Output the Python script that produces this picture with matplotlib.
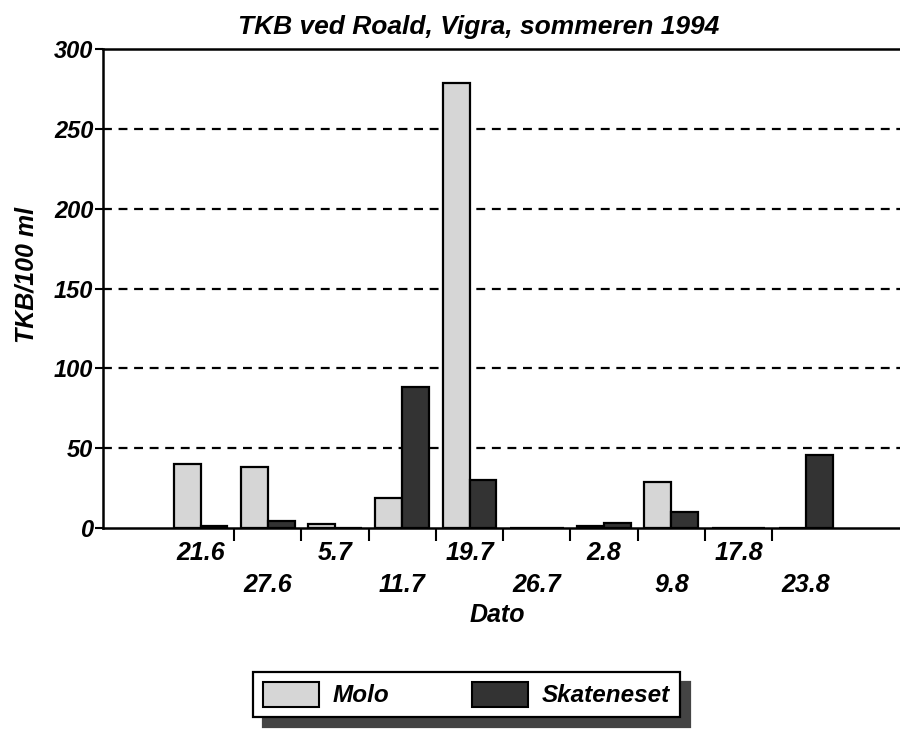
import matplotlib
matplotlib.use("Agg")
import matplotlib.pyplot as plt
import numpy as np
from matplotlib.patches import Patch

dates = ["21.6", "27.6", "5.7", "11.7", "19.7", "26.7", "2.8", "9.8", "17.8", "23.8"]
molo = [40, 38, 2.5, 19, 279, 0, 1.5, 29, 0, 0]
skateneset = [1.5, 4.5, 0, 88, 30, 0, 3, 10, 0, 46]
yticks = [0, 50, 100, 150, 200, 250, 300]

plt.rcParams['font.family'] = ['Liberation Sans', 'DejaVu Sans']
FONT = dict(fontweight='bold', fontstyle='italic')

W, H = 900, 731
fig = plt.figure(figsize=(9, 7.31), dpi=100)
ax = fig.add_axes([103 / W, 1 - 528 / H, 1 - 103 / W, (528 - 49) / H])

x = np.arange(len(dates))
bw = 0.4
ax.bar(x - bw / 2, molo, bw, color='#d6d6d6', edgecolor='black', linewidth=1.6, zorder=3)
ax.bar(x + bw / 2, skateneset, bw, color='#333333', edgecolor='black', linewidth=1.6, zorder=3)

ax.set_xlim(-1.45, 10.4)
ax.set_ylim(0, 300)

for v in yticks[1:-1]:
    ax.axhline(v, color='black', linestyle=(0, (4, 3)), linewidth=1.6, zorder=1)

ax.spines['right'].set_visible(False)
for s in ['left', 'bottom', 'top']:
    ax.spines[s].set_linewidth(1.8)

ax.set_yticks(yticks)
ax.set_yticklabels([str(v) for v in yticks], fontsize=17, **FONT)
ax.tick_params(axis='y', direction='out', length=6, width=1.5, pad=1)

ax.set_xticks(np.arange(len(dates) - 1) + 0.5)
ax.set_xticklabels([])
ax.tick_params(axis='x', direction='out', length=9, width=1.5)

for i, d in enumerate(dates):
    yoff = -25 if i % 2 == 0 else -57
    ax.annotate(d, xy=(i, 0), xycoords='data', xytext=(0, yoff), textcoords='offset pixels',
                ha='center', va='center', fontsize=18, **FONT, annotation_clip=False)

ax.annotate('Dato', xy=(0.5, 0), xycoords=('axes fraction', 'axes fraction'), xytext=(-4, -87),
            textcoords='offset pixels', ha='center', va='center', fontsize=18, **FONT)

fig.text(479 / W, 1 - 27 / H, 'TKB ved Roald, Vigra, sommeren 1994', ha='center', va='center',
         fontsize=19, **FONT)
fig.text(26 / W, 1 - 275 / H, 'TKB/100 ml', rotation=90, ha='center', va='center',
         fontsize=18, **FONT)

handles = [Patch(facecolor='#d6d6d6', edgecolor='black', linewidth=1.5, label='Molo'),
           Patch(facecolor='#333333', edgecolor='black', linewidth=1.5, label='Skateneset')]
leg = fig.legend(handles=handles, loc='upper left', ncol=2,
                 bbox_to_anchor=(253 / W, 1 - 672 / H),
                 prop=dict(family=['Liberation Sans'], weight='bold', style='italic', size=17.5),
                 handlelength=2.3, handleheight=1.2, handletextpad=0.58, columnspacing=3.4,
                 borderpad=0.4, borderaxespad=0,
                 fancybox=False, framealpha=1, edgecolor='black',
                 shadow={'ox': 7, 'oy': -7, 'color': '#444444', 'alpha': 1})
leg.get_frame().set_linewidth(1.6)

fig.savefig('out.png', dpi=100)
